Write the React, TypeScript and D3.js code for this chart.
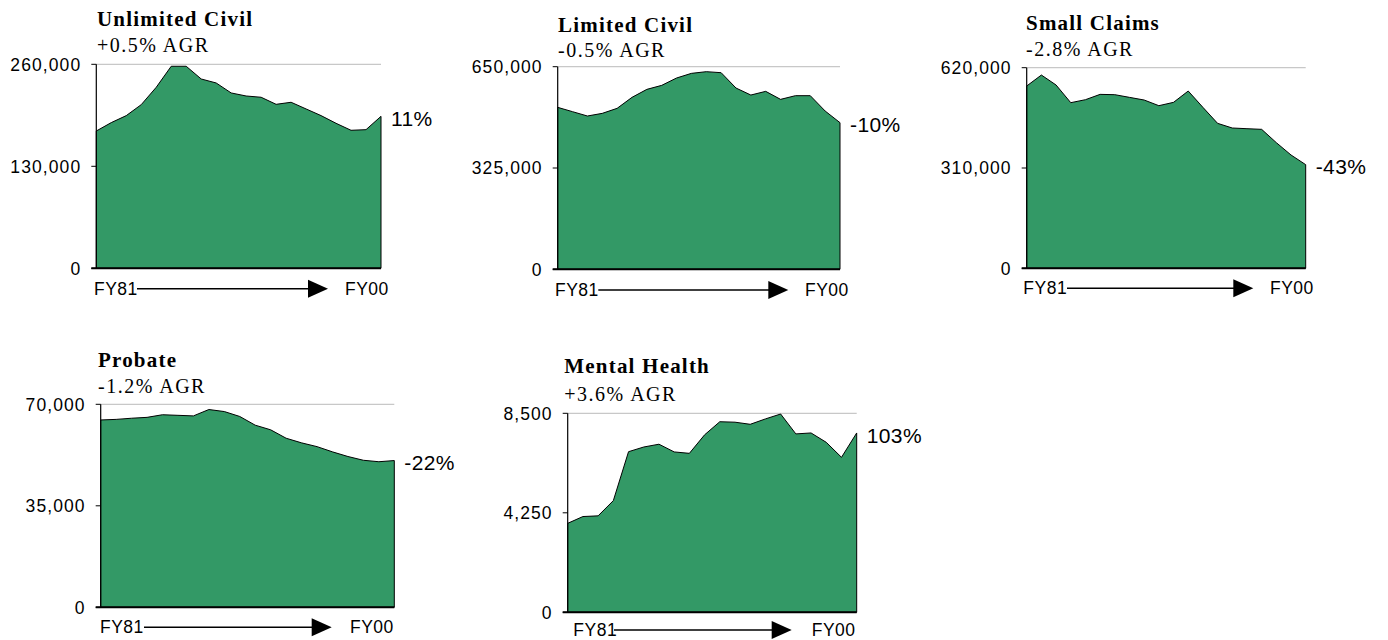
import React from "react";
import * as d3 from "d3";

// ---- Data ----
const fiscalYears = ["FY81","FY82","FY83","FY84","FY85","FY86","FY87","FY88","FY89","FY90","FY91","FY92","FY93","FY94","FY95","FY96","FY97","FY98","FY99","FY00"];

const unlimitedCivil = [175000,185700,194600,208600,230700,257500,257500,241300,236200,223500,219600,218000,209000,211600,203100,194600,184800,175900,176700,193700];
const limitedCivil = [519600,505700,491800,500300,516400,551600,577300,590100,613700,628600,634000,630800,581600,559100,570900,545200,557000,557000,507800,470400];
const smallClaims = [563400,597300,566500,511900,521100,537600,536600,528300,520100,502600,512900,547900,497400,448000,433600,431500,429500,388300,350200,320300];
const probate = [64600,64800,65200,65500,66400,66200,66000,68200,67500,65800,62800,61200,58300,56700,55400,53600,52000,50700,50200,50600];
const mentalHealth = [3800,4090,4120,4770,6860,7060,7180,6850,6790,7580,8140,8120,8030,8260,8470,7620,7660,7260,6620,7660];

const panelTitles = ["Unlimited Civil","Limited Civil","Small Claims","Probate","Mental Health"];
const panelGrowth = ["+0.5% AGR","-0.5% AGR","-2.8% AGR","-1.2% AGR","+3.6% AGR"];
const panelChange = ["11%","-10%","-43%","-22%","103%"];
const panelMax = [260000,650000,620000,70000,8500];
const panelTicks = [
  [0,130000,260000],
  [0,325000,650000],
  [0,310000,620000],
  [0,35000,70000],
  [0,4250,8500],
];
const panelSeries = [unlimitedCivil, limitedCivil, smallClaims, probate, mentalHealth];

// ---- Layout (pixel geometry only) ----
const layout = [
  { left: 96.3, right: 381, top: 64.3, bottom: 268.3, titleX: 97, titleY: 26, subY: 52, fy81X: 94, arrowStart: 137, arrowTip: 328, fy00X: 345, arrowY: 288.7 },
  { left: 557.7, right: 840, top: 66.7, bottom: 269.3, titleX: 558, titleY: 31.7, subY: 56.7, fy81X: 555, arrowStart: 598.3, arrowTip: 788.3, fy00X: 805, arrowY: 290 },
  { left: 1026.7, right: 1305.7, top: 67.7, bottom: 268.3, titleX: 1026, titleY: 30, subY: 56, fy81X: 1023.3, arrowStart: 1067, arrowTip: 1253.3, fy00X: 1270, arrowY: 288.3 },
  { left: 100.7, right: 394.3, top: 404.3, bottom: 607.3, titleX: 98, titleY: 366.7, subY: 393.3, fy81X: 100, arrowStart: 144, arrowTip: 331.7, fy00X: 350, arrowY: 627.3 },
  { left: 567.7, right: 856.7, top: 413.3, bottom: 612.3, titleX: 564.3, titleY: 373.3, subY: 400.7, fy81X: 573.3, arrowStart: 614, arrowTip: 791.7, fy00X: 811.7, arrowY: 630 },
];

const GREEN = "#339966";
const SANS = "'Liberation Sans', Arial, sans-serif";
const SERIF = "'Liberation Serif', 'Times New Roman', serif";
const fmt = d3.format(",");

function Panel({ i }: { i: number }) {
  const L = layout[i];
  const data = panelSeries[i];
  const x = d3.scaleLinear().domain([0, fiscalYears.length - 1]).range([L.left, L.right]);
  const y = d3.scaleLinear().domain([0, panelMax[i]]).range([L.bottom, L.top]);
  const area = d3.area<number>()
    .x((_, k) => x(k))
    .y0(y(0))
    .y1((d) => y(d));
  const last = data[data.length - 1];
  return (
    <g>
      <text x={L.titleX} y={L.titleY} fontFamily={SERIF} fontWeight="bold" fontSize={21} letterSpacing={1.2} fill="#000">
        {panelTitles[i]}
      </text>
      <text x={L.titleX} y={L.subY} fontFamily={SERIF} fontSize={20} letterSpacing={1.5} fill="#000">
        {panelGrowth[i]}
      </text>
      <line x1={L.left} x2={L.right} y1={y(panelMax[i])} y2={y(panelMax[i])} stroke="#c8c8c8" strokeWidth={1.2} />
      <path d={area(data) || ""} fill={GREEN} stroke="#000" strokeWidth={1} strokeLinejoin="round" />
      <line x1={L.left} x2={L.left} y1={L.top} y2={L.bottom} stroke="#000" strokeWidth={1.2} />
      <line x1={L.left - 5} x2={L.right} y1={L.bottom} y2={L.bottom} stroke="#000" strokeWidth={2} />
      {panelTicks[i].map((t) => (
        <g key={t}>
          <line x1={L.left - 5} x2={L.left} y1={y(t)} y2={y(t)} stroke="#000" strokeWidth={1} />
          <text x={L.left - 15} y={y(t)} dy="0.36em" textAnchor="end" fontFamily={SANS} fontSize={17.5} letterSpacing={1.1} fill="#000">
            {fmt(t)}
          </text>
        </g>
      ))}
      <text x={L.right + 10} y={y(last) + 2} dy="0.36em" fontFamily={SANS} fontSize={21} letterSpacing={0.4} fill="#000">
        {panelChange[i]}
      </text>
      <text x={L.fy81X} y={L.arrowY + 6} fontFamily={SANS} fontSize={17.5} letterSpacing={0.5} fill="#000">
        {fiscalYears[0]}
      </text>
      <line x1={L.arrowStart} x2={L.arrowTip - 18} y1={L.arrowY} y2={L.arrowY} stroke="#000" strokeWidth={1.5} />
      <path d={`M${L.arrowTip - 20},${L.arrowY - 9} L${L.arrowTip},${L.arrowY} L${L.arrowTip - 20},${L.arrowY + 9} Z`} fill="#000" />
      <text x={L.fy00X} y={L.arrowY + 6} fontFamily={SANS} fontSize={17.5} letterSpacing={0.5} fill="#000">
        {fiscalYears[fiscalYears.length - 1]}
      </text>
    </g>
  );
}

export default function App() {
  return (
    <svg width={1388} height={640} style={{ position: "absolute", left: 0, top: 0, background: "#fff" }}>
      <rect x={0} y={0} width={1388} height={640} fill="#fff" />
      {panelSeries.map((_, i) => (
        <Panel key={i} i={i} />
      ))}
    </svg>
  );
}
